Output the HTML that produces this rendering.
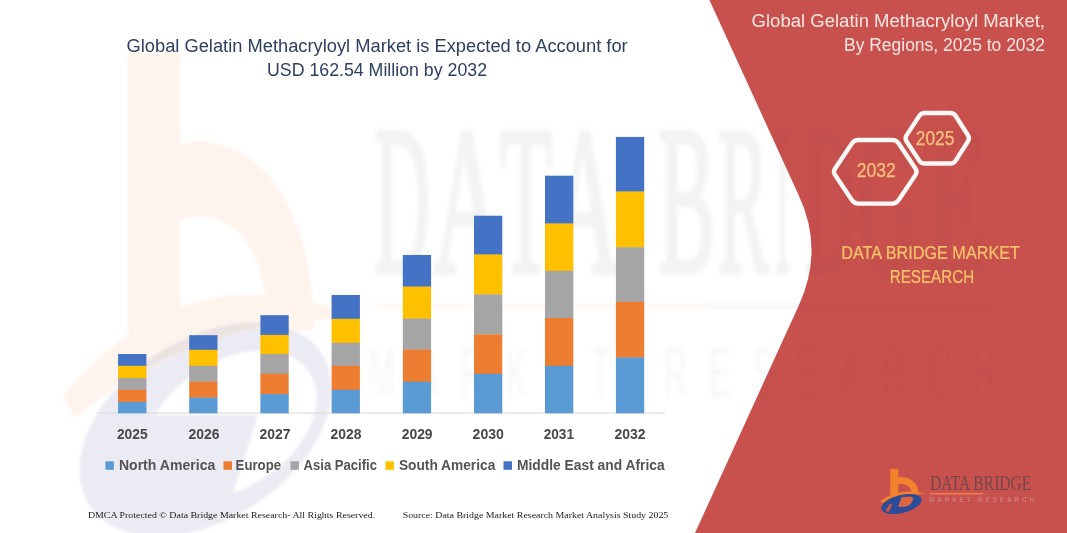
<!DOCTYPE html>
<html>
<head>
<meta charset="utf-8">
<title>Global Gelatin Methacryloyl Market</title>
<style>
  html, body { margin: 0; padding: 0; background: #ffffff; }
  body { width: 1067px; height: 533px; overflow: hidden; font-family: "Liberation Sans", sans-serif; }
  svg { display: block; }
  svg text { opacity: 0.999; }
  .sans { font-family: "Liberation Sans", sans-serif; }
  .serif { font-family: "Liberation Serif", serif; }
</style>
</head>
<body>
<svg width="1067" height="533" viewBox="0 0 1067 533">
  <defs>
    <filter id="blur1" x="-10%" y="-10%" width="120%" height="120%"><feGaussianBlur stdDeviation="1.2"/></filter>
    <filter id="blur2" x="-10%" y="-10%" width="120%" height="120%"><feGaussianBlur stdDeviation="2"/></filter>
    <g id="dbicon-o">
      <rect x="890.8" y="469.3" width="7" height="25.5"/>
      <path d="M896.5,481.2 C906,479 915,483.2 915.4,494.8" fill="none" stroke-width="7"/>
      <path d="M880.3,501 Q899,486.8 926,493.6 Q900,493.6 882,503 Z" stroke="none"/>
    </g>
    <clipPath id="clipOuter"><path d="M921.41,499.21 A19.8,8.9 -14 1 1 882.99,508.79 A19.8,8.9 -14 1 1 921.41,499.21 Z"/></clipPath>
    <g id="dbicon-bw" fill="#1A2A70">
      <path fill-rule="evenodd" d="M921.41,499.21 A19.8,8.9 -14 1 1 882.99,508.79 A19.8,8.9 -14 1 1 921.41,499.21 Z M919.20,500.31 A13.6,6.3 -14 1 1 892.80,506.89 A13.6,6.3 -14 1 1 919.20,500.31 Z"/>
      <g clip-path="url(#clipOuter)"><path d="M885.34,502.66 L891.03,502.66 L889.65,514.35 L879.80,514.35 Z"/><path d="M892.26,502.66 L910.26,502.66 L904.11,514.35 L890.88,514.35 Z"/></g>
    </g>
    <g id="dbicon-b">
      <path fill="#2B4C98" fill-rule="evenodd" d="M921.49,499.02 A20.6,8.9 -14 1 1 881.51,508.98 A20.6,8.9 -14 1 1 921.49,499.02 Z M901.5,497.2 L909.5,496.4 Q914.5,496.6 912.6,501 Q910,506.3 905,506.7 L898.1,507 Z M889.6,504 L892.6,504.6 L888.6,512 L885.6,511 Z"/>
    </g>
    <filter id="blurw" x="-5%" y="-5%" width="110%" height="110%"><feGaussianBlur stdDeviation="0.22 0.14"/></filter>
    <g id="wmtext">
      <g class="serif" fill="#4a4a4a" font-size="213" stroke="#4a4a4a" stroke-width="5" stroke-linejoin="round">
        <text x="374.5" y="271.6" textLength="55.5" lengthAdjust="spacingAndGlyphs">D</text>
        <text x="433" y="271.6" textLength="69" lengthAdjust="spacingAndGlyphs">A</text>
        <text x="500" y="271.6" textLength="52" lengthAdjust="spacingAndGlyphs">T</text>
        <text x="552" y="271.6" textLength="67" lengthAdjust="spacingAndGlyphs">A</text>
        <text x="658" y="271.6" textLength="57" lengthAdjust="spacingAndGlyphs">B</text>
        <text x="718" y="271.6" textLength="51" lengthAdjust="spacingAndGlyphs">R</text>
        <text x="775" y="271.6" textLength="15" lengthAdjust="spacingAndGlyphs">I</text>
        <text x="805" y="271.6" textLength="48" lengthAdjust="spacingAndGlyphs">D</text>
        <text x="858" y="271.6" textLength="57" lengthAdjust="spacingAndGlyphs">G</text>
        <text x="928" y="271.6" textLength="58" lengthAdjust="spacingAndGlyphs">E</text>
      </g>
      <rect x="374" y="304.5" width="330" height="3.5" fill="#F4822C"/>
      <rect x="704" y="304.5" width="292" height="3.5" fill="#555555"/>
      <g transform="translate(368,397) scale(0.46,1)" opacity="0.7"><text class="sans" x="0" y="0" font-size="70" fill="#4a4a4a" textLength="1365" lengthAdjust="spacing">MARKET RESEARCH</text></g>
    </g>
    <clipPath id="clipRed"><path d="M709.4,0 L798.6,195 Q824.3,249.5 799,305 L695,533 L1067,533 L1067,0 Z"/></clipPath>
    <clipPath id="clipWhite"><path d="M0,0 L709.4,0 L798.6,195 Q824.3,249.5 799,305 L695,533 L0,533 Z"/></clipPath>
  </defs>

  <!-- background -->
  <rect x="0" y="0" width="1067" height="533" fill="#ffffff"/>

  <!-- faint stretched logo watermark -->
  <g id="wm-icon" transform="matrix(6.5 0 0 10.7 -5658.7 -4963.5)" filter="url(#blurw)">
    <use href="#dbicon-o" opacity="0.09" fill="#F4822C" stroke="#F4822C"/>
    <use href="#dbicon-bw" opacity="0.08"/>
  </g>

  <!-- red panel -->
  <path id="redpanel" d="M709.4,0 L798.6,195 Q824.3,249.5 799,305 L695,533 L1067,533 L1067,0 Z" fill="#C8504D"/>

  <!-- faint wordmark watermark -->
  <g clip-path="url(#clipWhite)"><use href="#wmtext" opacity="0.07" filter="url(#blur2)"/></g>
  <g clip-path="url(#clipRed)"><use href="#wmtext" opacity="0.032" filter="url(#blur2)"/></g>

  <!-- chart -->
  <g id="chart" shape-rendering="auto">
    <rect x="97" y="412.6" width="568" height="1" fill="#D9D9D9"/>
    <rect x="118.1" y="354.0" width="28.3" height="12.1" fill="#4472C4"/>
    <rect x="118.1" y="365.8" width="28.3" height="12.5" fill="#FFC000"/>
    <rect x="118.1" y="378.0" width="28.3" height="12.1" fill="#A5A5A5"/>
    <rect x="118.1" y="389.8" width="28.3" height="12.4" fill="#ED7D31"/>
    <rect x="118.1" y="401.9" width="28.3" height="11.4" fill="#5B9BD5"/>
    <rect x="189.2" y="335.2" width="28.3" height="14.9" fill="#4472C4"/>
    <rect x="189.2" y="349.8" width="28.3" height="16.3" fill="#FFC000"/>
    <rect x="189.2" y="365.8" width="28.3" height="16.1" fill="#A5A5A5"/>
    <rect x="189.2" y="381.6" width="28.3" height="16.3" fill="#ED7D31"/>
    <rect x="189.2" y="397.6" width="28.3" height="15.7" fill="#5B9BD5"/>
    <rect x="260.4" y="315.2" width="28.3" height="20.0" fill="#4472C4"/>
    <rect x="260.4" y="334.9" width="28.3" height="19.4" fill="#FFC000"/>
    <rect x="260.4" y="354.0" width="28.3" height="20.0" fill="#A5A5A5"/>
    <rect x="260.4" y="373.7" width="28.3" height="20.6" fill="#ED7D31"/>
    <rect x="260.4" y="394.0" width="28.3" height="19.3" fill="#5B9BD5"/>
    <rect x="331.6" y="295.0" width="28.3" height="24.1" fill="#4472C4"/>
    <rect x="331.6" y="318.8" width="28.3" height="24.3" fill="#FFC000"/>
    <rect x="331.6" y="342.8" width="28.3" height="23.3" fill="#A5A5A5"/>
    <rect x="331.6" y="365.8" width="28.3" height="24.3" fill="#ED7D31"/>
    <rect x="331.6" y="389.8" width="28.3" height="23.5" fill="#5B9BD5"/>
    <rect x="402.8" y="255.0" width="28.3" height="31.9" fill="#4472C4"/>
    <rect x="402.8" y="286.6" width="28.3" height="32.3" fill="#FFC000"/>
    <rect x="402.8" y="318.6" width="28.3" height="31.3" fill="#A5A5A5"/>
    <rect x="402.8" y="349.6" width="28.3" height="32.4" fill="#ED7D31"/>
    <rect x="402.8" y="381.7" width="28.3" height="31.6" fill="#5B9BD5"/>
    <rect x="474.0" y="215.7" width="28.3" height="39.1" fill="#4472C4"/>
    <rect x="474.0" y="254.5" width="28.3" height="40.2" fill="#FFC000"/>
    <rect x="474.0" y="294.4" width="28.3" height="40.3" fill="#A5A5A5"/>
    <rect x="474.0" y="334.4" width="28.3" height="39.7" fill="#ED7D31"/>
    <rect x="474.0" y="373.8" width="28.3" height="39.5" fill="#5B9BD5"/>
    <rect x="545.0" y="175.7" width="28.3" height="48.1" fill="#4472C4"/>
    <rect x="545.0" y="223.5" width="28.3" height="47.6" fill="#FFC000"/>
    <rect x="545.0" y="270.8" width="28.3" height="47.5" fill="#A5A5A5"/>
    <rect x="545.0" y="318.0" width="28.3" height="48.2" fill="#ED7D31"/>
    <rect x="545.0" y="365.9" width="28.3" height="47.4" fill="#5B9BD5"/>
    <rect x="615.9" y="136.9" width="28.3" height="54.9" fill="#4472C4"/>
    <rect x="615.9" y="191.5" width="28.3" height="56.0" fill="#FFC000"/>
    <rect x="615.9" y="247.2" width="28.3" height="54.9" fill="#A5A5A5"/>
    <rect x="615.9" y="301.8" width="28.3" height="56.0" fill="#ED7D31"/>
    <rect x="615.9" y="357.5" width="28.3" height="55.8" fill="#5B9BD5"/>
    <text class="sans" x="116.9" y="439.3" font-size="13.8" font-weight="bold" fill="#484848" textLength="30.7" lengthAdjust="spacingAndGlyphs">2025</text>
    <text class="sans" x="188.6" y="439.3" font-size="13.8" font-weight="bold" fill="#484848" textLength="30.9" lengthAdjust="spacingAndGlyphs">2026</text>
    <text class="sans" x="259.5" y="439.3" font-size="13.8" font-weight="bold" fill="#484848" textLength="30.9" lengthAdjust="spacingAndGlyphs">2027</text>
    <text class="sans" x="330.6" y="439.3" font-size="13.8" font-weight="bold" fill="#484848" textLength="30.9" lengthAdjust="spacingAndGlyphs">2028</text>
    <text class="sans" x="401.7" y="439.3" font-size="13.8" font-weight="bold" fill="#484848" textLength="30.9" lengthAdjust="spacingAndGlyphs">2029</text>
    <text class="sans" x="472.6" y="439.3" font-size="13.8" font-weight="bold" fill="#484848" textLength="31.2" lengthAdjust="spacingAndGlyphs">2030</text>
    <text class="sans" x="543.7" y="439.3" font-size="13.8" font-weight="bold" fill="#484848" textLength="30.3" lengthAdjust="spacingAndGlyphs">2031</text>
    <text class="sans" x="614.5" y="439.3" font-size="13.8" font-weight="bold" fill="#484848" textLength="31.0" lengthAdjust="spacingAndGlyphs">2032</text>
    <rect x="105.4" y="461.3" width="8.5" height="8.5" fill="#5B9BD5"/>
    <text class="sans" x="118.9" y="469.5" font-size="13.8" font-weight="bold" fill="#545454" textLength="96.4" lengthAdjust="spacingAndGlyphs">North America</text>
    <rect x="223.5" y="461.3" width="8.5" height="8.5" fill="#ED7D31"/>
    <text class="sans" x="235.6" y="469.5" font-size="13.8" font-weight="bold" fill="#545454" textLength="45.5" lengthAdjust="spacingAndGlyphs">Europe</text>
    <rect x="290.4" y="461.3" width="8.5" height="8.5" fill="#A5A5A5"/>
    <text class="sans" x="303.6" y="469.5" font-size="13.8" font-weight="bold" fill="#545454" textLength="73.4" lengthAdjust="spacingAndGlyphs">Asia Pacific</text>
    <rect x="385.4" y="461.3" width="8.5" height="8.5" fill="#FFC000"/>
    <text class="sans" x="398.9" y="469.5" font-size="13.8" font-weight="bold" fill="#545454" textLength="96.4" lengthAdjust="spacingAndGlyphs">South America</text>
    <rect x="503.5" y="461.3" width="8.5" height="8.5" fill="#4472C4"/>
    <text class="sans" x="517.0" y="469.5" font-size="13.8" font-weight="bold" fill="#545454" textLength="147.6" lengthAdjust="spacingAndGlyphs">Middle East and Africa</text>
  </g>

  <!-- titles -->
  <g id="titles" class="sans">
    <text x="126.5" y="51.6" font-size="17.6" fill="#2E3F62" textLength="501.2" lengthAdjust="spacingAndGlyphs">Global Gelatin Methacryloyl Market is Expected to Account for</text>
    <text x="267" y="76.4" font-size="17.6" fill="#2E3F62" textLength="220" lengthAdjust="spacingAndGlyphs">USD 162.54 Million by 2032</text>
    <text x="751.6" y="27" font-size="17.6" fill="#FCE6E2" textLength="293.4" lengthAdjust="spacingAndGlyphs">Global Gelatin Methacryloyl Market,</text>
    <text x="844" y="50.6" font-size="17.6" fill="#FCE6E2" textLength="201" lengthAdjust="spacingAndGlyphs">By Regions, 2025 to 2032</text>
    <text x="841.2" y="258.6" font-size="18.4" fill="#FEC46A" stroke="#FEC46A" stroke-width="0.2" textLength="178.8" lengthAdjust="spacingAndGlyphs">DATA BRIDGE MARKET</text>
    <text x="889.7" y="282.6" font-size="18.4" fill="#FEC46A" stroke="#FEC46A" stroke-width="0.2" textLength="84.5" lengthAdjust="spacingAndGlyphs">RESEARCH</text>
  </g>

  <!-- hexagons -->
  <g id="hexagons" fill="none" stroke="#FFF8F6" stroke-width="4.4" stroke-linejoin="round">
    <path d="M835.1,175.1 Q832.9,171.8 835.1,168.5 L852.0,143.3 Q854.2,140.0 858.2,140.0 L892.3,140.0 Q896.3,140.0 898.5,143.3 L915.4,168.5 Q917.6,171.8 915.4,175.1 L898.5,200.3 Q896.3,203.6 892.3,203.6 L858.2,203.6 Q854.2,203.6 852.0,200.3 Z"/>
    <path d="M906.5,141.2 Q904.6,138.3 906.5,135.4 L919.3,115.9 Q921.2,113.0 924.7,113.0 L950.3,113.0 Q953.8,113.0 955.7,116.0 L968.0,135.3 Q969.9,138.3 968.0,141.2 L955.7,160.6 Q953.8,163.5 950.3,163.5 L924.7,163.5 Q921.2,163.5 919.3,160.6 Z"/>
  </g>
  <g class="sans" fill="#FEC27E" stroke="#FEC27E" stroke-width="0.25">
    <text x="856.7" y="177.4" font-size="19.4" textLength="39" lengthAdjust="spacingAndGlyphs">2032</text>
    <text x="915.8" y="144.8" font-size="19.4" textLength="38.5" lengthAdjust="spacingAndGlyphs">2025</text>
  </g>

  <!-- logo -->
  <g id="logo">
    <!-- icon (tinted hole fills sit under the ring) -->
    <path d="M901.5,497.2 L909.5,496.4 Q914.5,496.6 912.6,501 Q910,506.3 905,506.7 L898.1,507 Z" fill="#DC6542"/>
    <path d="M889.6,504 L892.6,504.6 L888.6,512 L885.6,511 Z" fill="#D4583F"/>
    <use href="#dbicon-o" fill="#F4822C" stroke="#F4822C"/>
    <use href="#dbicon-b"/>
    <!-- wordmark -->
    <text class="serif" x="930.1" y="489.9" font-size="20.6" fill="#724748" textLength="101.2" lengthAdjust="spacingAndGlyphs">DATA BRIDGE</text>
    <rect x="930" y="493.2" width="53.5" height="1.2" fill="#F58A52"/>
    <rect x="983.5" y="493.3" width="48" height="1" fill="#B8605C" opacity="0.7"/>
    <text class="sans" x="929" y="502.3" font-size="6.4" font-weight="bold" fill="#CD7E79" textLength="105" lengthAdjust="spacing">MARKET RESEARCH</text>
  </g>

  <!-- footer -->
  <g id="footer" class="serif" fill="#1a1a1a">
    <text x="87.9" y="517.9" font-size="9.2" textLength="287.3" lengthAdjust="spacingAndGlyphs">DMCA Protected © Data Bridge Market Research-  All Rights Reserved.</text>
    <text x="402.7" y="517.7" font-size="9.2" textLength="265.6" lengthAdjust="spacingAndGlyphs">Source: Data Bridge Market Research  Market Analysis Study 2025</text>
  </g>
</svg>
</body>
</html>
